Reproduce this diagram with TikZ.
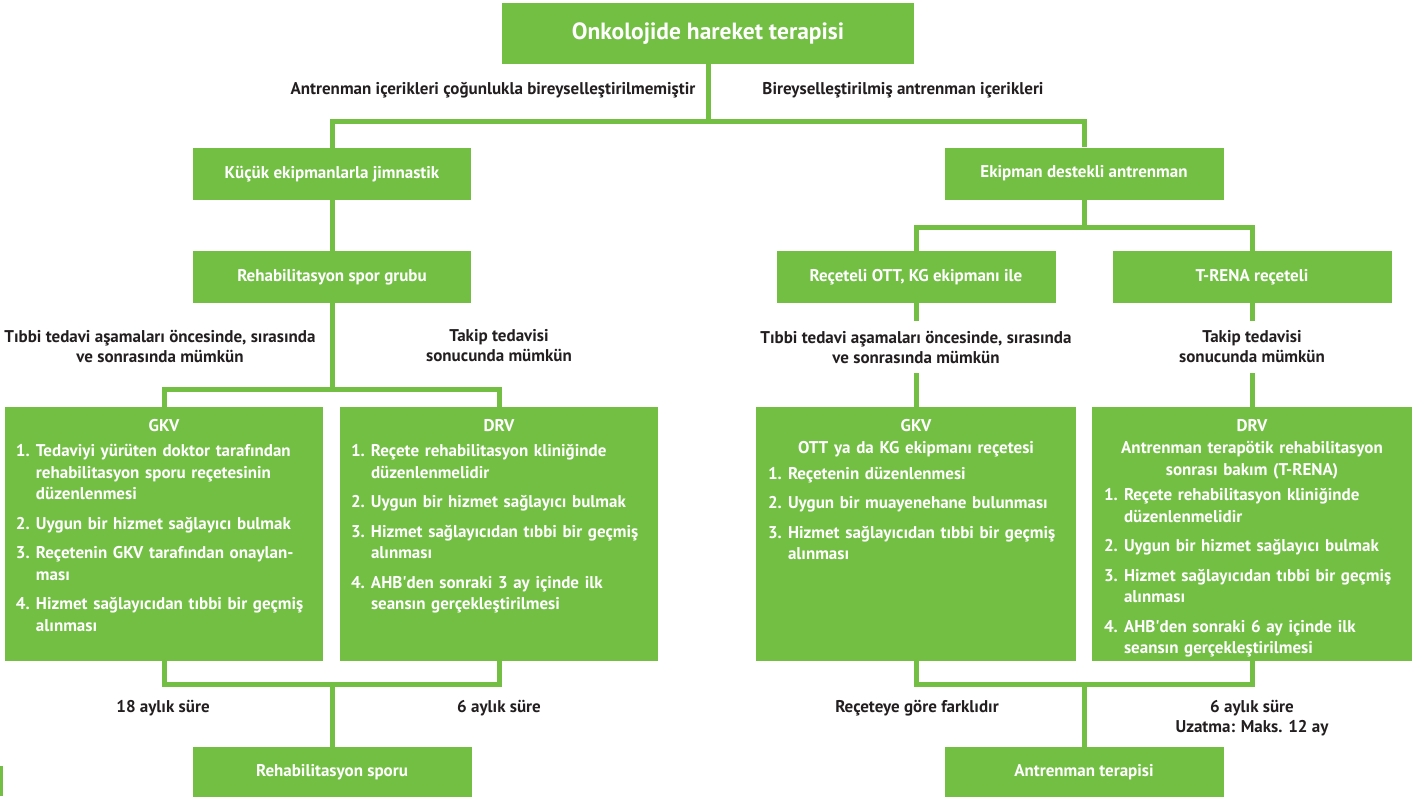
\documentclass[tikz,border=0pt]{standalone}
\usepackage{fontspec}
\setmainfont{PT Sans}[Ligatures=TeXOff]
\usetikzlibrary{calc}
\definecolor{gr}{RGB}{114,191,68}
\definecolor{tx}{RGB}{35,31,32}
\newcommand\fsz{\fontsize{17}{20}\selectfont}
\newcommand\fszb{\fontsize{17}{21.5}\selectfont}
\newcommand\nb[1]{\makebox[20pt][l]{#1}}
\newcommand\ind{\hspace*{20pt}}
\begin{document}
\begin{tikzpicture}[x=1pt,y=-1pt,
  gbox/.style={fill=gr, text=white, font=\fsz\bfseries, inner sep=0pt, minimum height=52pt},
  bigbox/.style={fill=gr, inner sep=0pt, minimum height=254pt},
  conn/.style={draw=gr, line width=5pt},
  lbl/.style={text=tx, font=\fsz\bfseries, align=center, inner sep=0pt},
  ltxt/.style={text=white, font=\fszb\bfseries, align=left, inner sep=0pt, anchor=north}]
\useasboundingbox (0,0) rectangle (1416,796);

% top
\node[gbox, minimum width=412pt, minimum height=61pt, font=\fontsize{23.5}{27}\selectfont\bfseries] (title) at (708,33.5) {Onkolojide hareket terapisi};
\node[lbl] (lblA) at (493,90) {Antrenman içerikleri çoğunlukla bireyselleştirilmemiştir};
\node[lbl] (lblB) at (903,90) {Bireyselleştirilmiş antrenman içerikleri};

\node[gbox, minimum width=278pt] (kucuk) at (332,174) {Küçük ekipmanlarla jimnastik};
\node[gbox, minimum width=279pt] (ekip) at (1084,173.5) {Ekipman destekli antrenman};
\node[gbox, minimum width=278pt] (rsg) at (332,277) {Rehabilitasyon spor grubu};
\node[gbox, minimum width=279pt] (ott) at (916,277) {Reçeteli OTT, KG ekipmanı ile};
\node[gbox, minimum width=279pt] (trena) at (1252,277) {T-RENA reçeteli};

% middle labels
\node[lbl] (medL) at (160,346) {Tıbbi tedavi aşamaları öncesinde, sırasında\\ve sonrasında mümkün};
\node[lbl] (takL) at (499,346) {Takip tedavisi\\sonucunda mümkün};
\node[lbl, minimum height=52pt] (medR) at (916,347) {Tıbbi tedavi aşamaları öncesinde, sırasında\\ve sonrasında mümkün};
\node[lbl, minimum height=52pt] (takR) at (1252,347) {Takip tedavisi\\sonucunda mümkün};

% big boxes
\node[bigbox, minimum width=318pt] (gkvL) at (164,534) {};
\node[bigbox, minimum width=318pt] (drvL) at (499,534) {};
\node[bigbox, minimum width=320pt] (gkvR) at (916,534) {};
\node[bigbox, minimum width=320pt] (drvR) at (1252,534) {};

\node[ltxt, text width=296pt] (gkvLt) at ($(gkvL.north)+(0,12)$) {%
\makebox[\hsize]{GKV}\\[4pt]
\nb{1.}Tedaviyi yürüten doktor tarafından\\
\ind rehabilitasyon sporu reçetesinin\\
\ind düzenlenmesi\\[8pt]
\nb{2.}Uygun bir hizmet sağlayıcı bulmak\\[8pt]
\nb{3.}Reçetenin GKV tarafından onaylan-\\
\ind ması\\[8pt]
\nb{4.}Hizmet sağlayıcıdan tıbbi bir geçmiş\\
\ind alınması};

\node[ltxt, text width=296pt] (drvLt) at ($(drvL.north)+(0,12)$) {%
\makebox[\hsize]{DRV}\\[4pt]
\nb{1.}Reçete rehabilitasyon kliniğinde\\
\ind düzenlenmelidir\\[8pt]
\nb{2.}Uygun bir hizmet sağlayıcı bulmak\\[8pt]
\nb{3.}Hizmet sağlayıcıdan tıbbi bir geçmiş\\
\ind alınması\\[8pt]
\nb{4.}AHB'den sonraki 3 ay içinde ilk\\
\ind seansın gerçekleştirilmesi};

\node[ltxt, text width=296pt] (gkvRt) at ($(gkvR.north)+(0,12)$) {%
\makebox[\hsize]{GKV}\\[1pt]
\makebox[\hsize]{OTT ya da KG ekipmanı reçetesi}\\[4pt]
\nb{1.}Reçetenin düzenlenmesi\\[8pt]
\nb{2.}Uygun bir muayenehane bulunması\\[8pt]
\nb{3.}Hizmet sağlayıcıdan tıbbi bir geçmiş\\
\ind alınması};

\node[ltxt, text width=296pt] (drvRt) at ($(drvR.north)+(0,12)$) {%
\makebox[\hsize]{DRV}\\[1pt]
\makebox[\hsize]{Antrenman terapötik rehabilitasyon}\\
\makebox[\hsize]{sonrası bakım (T-RENA)}\\[4pt]
\nb{1.}Reçete rehabilitasyon kliniğinde\\
\ind düzenlenmelidir\\[8pt]
\nb{2.}Uygun bir hizmet sağlayıcı bulmak\\[8pt]
\nb{3.}Hizmet sağlayıcıdan tıbbi bir geçmiş\\
\ind alınması\\[8pt]
\nb{4.}AHB'den sonraki 6 ay içinde ilk\\
\ind seansın gerçekleştirilmesi};

% bottom labels and boxes
\node[lbl] (m18) at (163,708) {18 aylık süre};
\node[lbl] (m6) at (499,708) {6 aylık süre};
\node[lbl] (rec) at (917,708) {Reçeteye göre farklıdır};
\node[lbl] (m6r) at (1252,718) {6 aylık süre\\Uzatma: Maks. 12 ay};
\node[gbox, minimum width=279pt, minimum height=50pt] (rsport) at (332,772) {Rehabilitasyon sporu};
\node[gbox, minimum width=279pt, minimum height=50pt] (anter) at (1084,772) {Antrenman terapisi};

% connectors
\coordinate (j1) at (708,121);
\coordinate (j2) at (332,389);
\coordinate (j3) at (1084,227);
\coordinate (j4) at (332,684);
\coordinate (j5) at (1084,684);
\draw[conn] (title.south) -- (j1);
\draw[conn] (kucuk.north) |- (j1) -| (ekip.north);
\draw[conn] (kucuk.south) -- (rsg.north);
\draw[conn] (rsg.south) -- (j2);
\draw[conn] (gkvL.north) |- (j2) -| (drvL.north);
\draw[conn] (ekip.south) -- (j3);
\draw[conn] (ott.north) |- (j3) -| (trena.north);
\draw[conn] (ott.south) -- (medR.north);
\draw[conn] (medR.south) -- (gkvR.north);
\draw[conn] (trena.south) -- (takR.north);
\draw[conn] (takR.south) -- (drvR.north);
\draw[conn] (gkvL.south) |- (j4) -| (drvL.south);
\draw[conn] (j4) -- (rsport.north);
\draw[conn] (gkvR.south) |- (j5) -| (drvR.south);
\draw[conn] (j5) -- (anter.north);

\fill[gr] (0,766) rectangle (3,796);
\end{tikzpicture}
\end{document}
